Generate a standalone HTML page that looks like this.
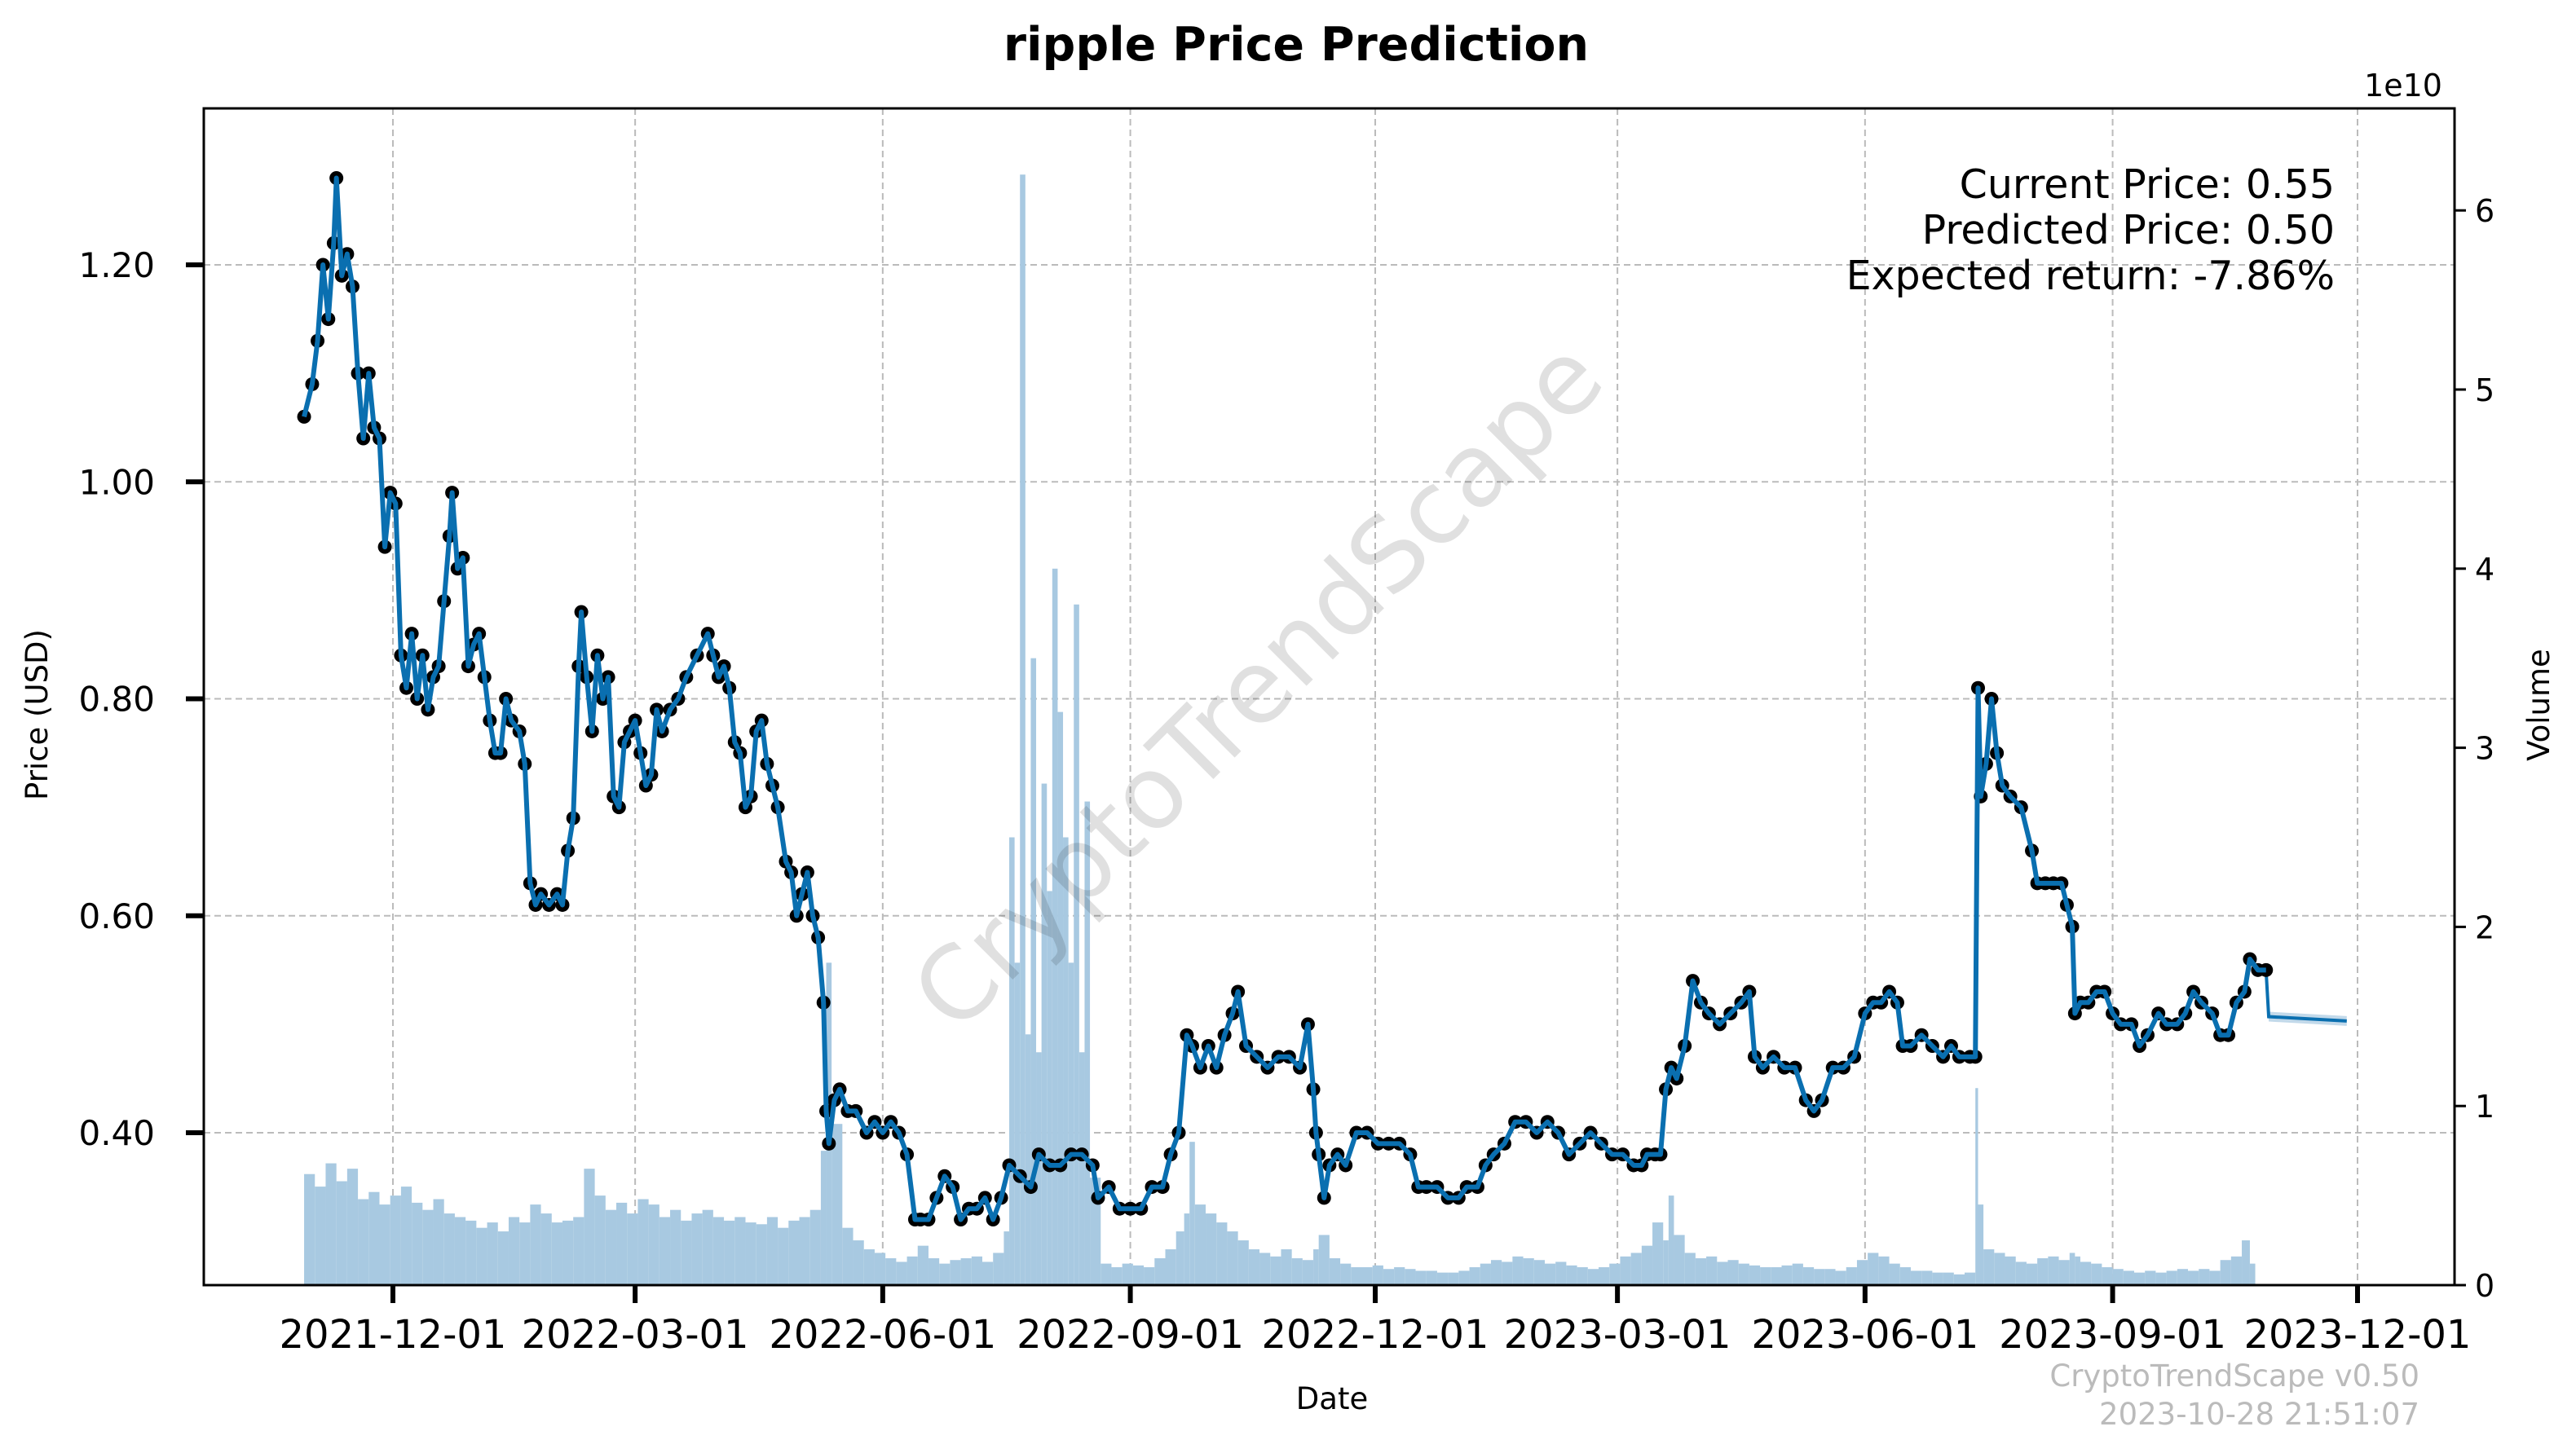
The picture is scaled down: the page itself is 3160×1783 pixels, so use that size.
<!DOCTYPE html>
<html><head><meta charset="utf-8"><style>
html,body{margin:0;padding:0;background:#fff}
svg{display:block;font-family:"DejaVu Sans","Liberation Sans",sans-serif}
</style></head><body>
<svg id="chart" width="3160" height="1783" viewBox="0 0 3160 1783">
<rect width="3160" height="1783" fill="#fff"/>
<g id="grid"></g>
<g id="vol"></g>
<text x="1549" y="847" transform="rotate(-45 1549 847)" text-anchor="middle" dominant-baseline="middle" font-size="124" fill="#000" fill-opacity="0.12">CryptoTrendScape</text>
<g id="pred"></g>
<g id="price"></g>
<g id="axes"></g>
<text x="1590" y="74" text-anchor="middle" font-size="57" font-weight="bold">ripple Price Prediction</text>
<text x="2864" y="243" text-anchor="end" font-size="49">Current Price: 0.55</text>
<text x="2864" y="299" text-anchor="end" font-size="49">Predicted Price: 0.50</text>
<text x="2864" y="355" text-anchor="end" font-size="49">Expected return: -7.86%</text>
<text x="1634" y="1729" text-anchor="middle" font-size="37">Date</text>
<text x="58" y="877" text-anchor="middle" font-size="37" transform="rotate(-90 58 877)">Price (USD)</text>
<text x="3127" y="865" text-anchor="middle" font-size="37" transform="rotate(-90 3127 865)">Volume</text>
<text x="2996" y="118" text-anchor="end" font-size="38">1e10</text>
<text x="2968" y="1701" text-anchor="end" font-size="37" fill="#bbb">CryptoTrendScape v0.50</text>
<text x="2968" y="1748" text-anchor="end" font-size="37" fill="#bbb">2023-10-28 21:51:07</text>
</svg>
<script>
const priceDates=["2021-10-29","2021-11-01","2021-11-03","2021-11-05","2021-11-07","2021-11-09","2021-11-10","2021-11-12","2021-11-14","2021-11-16","2021-11-18","2021-11-20","2021-11-22","2021-11-24","2021-11-26","2021-11-28","2021-11-30","2021-12-02","2021-12-04","2021-12-06","2021-12-08","2021-12-10","2021-12-12","2021-12-14","2021-12-16","2021-12-18","2021-12-20","2021-12-22","2021-12-23","2021-12-25","2021-12-27","2021-12-29","2021-12-31","2022-01-02","2022-01-04","2022-01-06","2022-01-08","2022-01-10","2022-01-12","2022-01-14","2022-01-17","2022-01-19","2022-01-21","2022-01-23","2022-01-25","2022-01-28","2022-01-31","2022-02-02","2022-02-04","2022-02-06","2022-02-08","2022-02-09","2022-02-11","2022-02-13","2022-02-15","2022-02-17","2022-02-19","2022-02-21","2022-02-23","2022-02-25","2022-02-27","2022-03-01","2022-03-03","2022-03-05","2022-03-07","2022-03-09","2022-03-11","2022-03-14","2022-03-17","2022-03-20","2022-03-24","2022-03-28","2022-03-30","2022-04-01","2022-04-03","2022-04-05","2022-04-07","2022-04-09","2022-04-11","2022-04-13","2022-04-15","2022-04-17","2022-04-19","2022-04-21","2022-04-23","2022-04-26","2022-04-28","2022-04-30","2022-05-02","2022-05-04","2022-05-06","2022-05-08","2022-05-10","2022-05-11","2022-05-12","2022-05-14","2022-05-16","2022-05-19","2022-05-22","2022-05-26","2022-05-29","2022-06-01","2022-06-04","2022-06-07","2022-06-10","2022-06-13","2022-06-15","2022-06-18","2022-06-21","2022-06-24","2022-06-27","2022-06-30","2022-07-03","2022-07-06","2022-07-09","2022-07-12","2022-07-15","2022-07-18","2022-07-22","2022-07-26","2022-07-29","2022-08-02","2022-08-06","2022-08-10","2022-08-14","2022-08-18","2022-08-20","2022-08-24","2022-08-28","2022-09-01","2022-09-05","2022-09-09","2022-09-13","2022-09-16","2022-09-19","2022-09-22","2022-09-24","2022-09-27","2022-09-30","2022-10-03","2022-10-06","2022-10-09","2022-10-11","2022-10-14","2022-10-18","2022-10-22","2022-10-26","2022-10-30","2022-11-03","2022-11-06","2022-11-08","2022-11-09","2022-11-10","2022-11-12","2022-11-14","2022-11-17","2022-11-20","2022-11-24","2022-11-28","2022-12-02","2022-12-06","2022-12-10","2022-12-14","2022-12-17","2022-12-20","2022-12-24","2022-12-28","2023-01-01","2023-01-04","2023-01-08","2023-01-11","2023-01-14","2023-01-18","2023-01-22","2023-01-26","2023-01-30","2023-02-03","2023-02-07","2023-02-11","2023-02-15","2023-02-19","2023-02-23","2023-02-27","2023-03-03","2023-03-07","2023-03-10","2023-03-12","2023-03-15","2023-03-17","2023-03-19","2023-03-21","2023-03-23","2023-03-26","2023-03-29","2023-04-01","2023-04-04","2023-04-08","2023-04-12","2023-04-16","2023-04-19","2023-04-21","2023-04-24","2023-04-28","2023-05-02","2023-05-06","2023-05-10","2023-05-13","2023-05-16","2023-05-20","2023-05-24","2023-05-28","2023-06-01","2023-06-04","2023-06-07","2023-06-10","2023-06-13","2023-06-15","2023-06-18","2023-06-22","2023-06-26","2023-06-30","2023-07-03","2023-07-06","2023-07-10","2023-07-12","2023-07-13","2023-07-14","2023-07-16","2023-07-18","2023-07-20","2023-07-22","2023-07-25","2023-07-29","2023-08-02","2023-08-04","2023-08-07","2023-08-10","2023-08-13","2023-08-15","2023-08-17","2023-08-18","2023-08-20","2023-08-23","2023-08-26","2023-08-29","2023-09-01","2023-09-04","2023-09-08","2023-09-11","2023-09-14","2023-09-18","2023-09-21","2023-09-25","2023-09-28","2023-10-01","2023-10-04","2023-10-08","2023-10-11","2023-10-14","2023-10-17","2023-10-20","2023-10-22","2023-10-25","2023-10-28"];
const priceValues=[1.06,1.09,1.13,1.20,1.15,1.22,1.28,1.19,1.21,1.18,1.10,1.04,1.10,1.05,1.04,0.94,0.99,0.98,0.84,0.81,0.86,0.80,0.84,0.79,0.82,0.83,0.89,0.95,0.99,0.92,0.93,0.83,0.85,0.86,0.82,0.78,0.75,0.75,0.80,0.78,0.77,0.74,0.63,0.61,0.62,0.61,0.62,0.61,0.66,0.69,0.83,0.88,0.82,0.77,0.84,0.80,0.82,0.71,0.70,0.76,0.77,0.78,0.75,0.72,0.73,0.79,0.77,0.79,0.80,0.82,0.84,0.86,0.84,0.82,0.83,0.81,0.76,0.75,0.70,0.71,0.77,0.78,0.74,0.72,0.70,0.65,0.64,0.60,0.62,0.64,0.60,0.58,0.52,0.42,0.39,0.43,0.44,0.42,0.42,0.40,0.41,0.40,0.41,0.40,0.38,0.32,0.32,0.32,0.34,0.36,0.35,0.32,0.33,0.33,0.34,0.32,0.34,0.37,0.36,0.35,0.38,0.37,0.37,0.38,0.38,0.37,0.34,0.35,0.33,0.33,0.33,0.35,0.35,0.38,0.40,0.49,0.48,0.46,0.48,0.46,0.49,0.51,0.53,0.48,0.47,0.46,0.47,0.47,0.46,0.50,0.44,0.40,0.38,0.34,0.37,0.38,0.37,0.40,0.40,0.39,0.39,0.39,0.38,0.35,0.35,0.35,0.34,0.34,0.35,0.35,0.37,0.38,0.39,0.41,0.41,0.40,0.41,0.40,0.38,0.39,0.40,0.39,0.38,0.38,0.37,0.37,0.38,0.38,0.38,0.44,0.46,0.45,0.48,0.54,0.52,0.51,0.50,0.51,0.52,0.53,0.47,0.46,0.47,0.46,0.46,0.43,0.42,0.43,0.46,0.46,0.47,0.51,0.52,0.52,0.53,0.52,0.48,0.48,0.49,0.48,0.47,0.48,0.47,0.47,0.47,0.81,0.71,0.74,0.80,0.75,0.72,0.71,0.70,0.66,0.63,0.63,0.63,0.63,0.61,0.59,0.51,0.52,0.52,0.53,0.53,0.51,0.50,0.50,0.48,0.49,0.51,0.50,0.50,0.51,0.53,0.52,0.51,0.49,0.49,0.52,0.53,0.56,0.55,0.55];
const predDates=["2023-10-28","2023-10-29","2023-11-27"];
const predValues=[0.55,0.507,0.503];
const volDates=["2021-10-29","2021-11-02","2021-11-06","2021-11-10","2021-11-14","2021-11-18","2021-11-22","2021-11-26","2021-11-30","2021-12-04","2021-12-08","2021-12-12","2021-12-16","2021-12-20","2021-12-24","2021-12-28","2022-01-01","2022-01-05","2022-01-09","2022-01-13","2022-01-17","2022-01-21","2022-01-25","2022-01-29","2022-02-02","2022-02-06","2022-02-10","2022-02-14","2022-02-18","2022-02-22","2022-02-26","2022-03-02","2022-03-06","2022-03-10","2022-03-14","2022-03-18","2022-03-22","2022-03-26","2022-03-30","2022-04-03","2022-04-07","2022-04-11","2022-04-15","2022-04-19","2022-04-23","2022-04-27","2022-05-01","2022-05-05","2022-05-09","2022-05-11","2022-05-13","2022-05-17","2022-05-21","2022-05-25","2022-05-29","2022-06-02","2022-06-06","2022-06-10","2022-06-14","2022-06-18","2022-06-22","2022-06-26","2022-06-30","2022-07-04","2022-07-08","2022-07-12","2022-07-16","2022-07-18","2022-07-20","2022-07-22","2022-07-24","2022-07-26","2022-07-28","2022-07-30","2022-08-01","2022-08-03","2022-08-05","2022-08-07","2022-08-09","2022-08-11","2022-08-13","2022-08-15","2022-08-17","2022-08-21","2022-08-25","2022-08-29","2022-09-02","2022-09-06","2022-09-10","2022-09-14","2022-09-18","2022-09-21","2022-09-23","2022-09-25","2022-09-29","2022-10-03","2022-10-07","2022-10-11","2022-10-15","2022-10-19","2022-10-23","2022-10-27","2022-10-31","2022-11-04","2022-11-08","2022-11-10","2022-11-14","2022-11-18","2022-11-22","2022-11-26","2022-11-30","2022-12-04","2022-12-08","2022-12-12","2022-12-16","2022-12-20","2022-12-24","2022-12-28","2023-01-01","2023-01-05","2023-01-09","2023-01-13","2023-01-17","2023-01-21","2023-01-25","2023-01-29","2023-02-02","2023-02-06","2023-02-10","2023-02-14","2023-02-18","2023-02-22","2023-02-26","2023-03-02","2023-03-06","2023-03-10","2023-03-14","2023-03-18","2023-03-20","2023-03-22","2023-03-26","2023-03-30","2023-04-03","2023-04-07","2023-04-11","2023-04-15","2023-04-19","2023-04-23","2023-04-27","2023-05-01","2023-05-05","2023-05-09","2023-05-13","2023-05-17","2023-05-21","2023-05-25","2023-05-29","2023-06-02","2023-06-06","2023-06-10","2023-06-14","2023-06-18","2023-06-22","2023-06-26","2023-06-30","2023-07-04","2023-07-08","2023-07-12","2023-07-13","2023-07-15","2023-07-19","2023-07-23","2023-07-27","2023-07-31","2023-08-04","2023-08-08","2023-08-12","2023-08-16","2023-08-18","2023-08-20","2023-08-24","2023-08-28","2023-09-01","2023-09-05","2023-09-09","2023-09-13","2023-09-17","2023-09-21","2023-09-25","2023-09-29","2023-10-03","2023-10-07","2023-10-11","2023-10-15","2023-10-19","2023-10-22","2023-10-24","2023-10-28"];
const volValues=[6.2,5.5,6.8,5.8,6.5,4.8,5.2,4.5,5.0,5.5,4.6,4.2,4.8,4.0,3.8,3.6,3.2,3.5,3.0,3.8,3.5,4.5,4.0,3.5,3.6,3.8,6.5,5.0,4.2,4.6,4.0,4.8,4.5,3.8,4.2,3.6,4.0,4.2,3.8,3.6,3.8,3.5,3.4,3.8,3.2,3.6,3.8,4.2,7.5,18,9.0,3.2,2.5,2.0,1.8,1.5,1.3,1.6,2.2,1.5,1.2,1.4,1.5,1.6,1.3,1.8,3.0,25,18,62,14,35,13,28,22,40,32,25,18,38,13,27,6.0,1.2,1.0,1.2,1.1,1.0,1.5,2.0,3.0,4.0,8.0,4.5,4.0,3.5,3.0,2.5,2.0,1.8,1.6,2.0,1.5,1.4,2.0,2.8,1.5,1.2,1.0,1.0,1.1,0.9,1.0,0.9,0.8,0.8,0.7,0.7,0.8,1.0,1.2,1.4,1.3,1.6,1.5,1.4,1.2,1.3,1.1,1.0,0.9,1.0,1.2,1.6,1.8,2.2,3.5,2.5,5.0,2.8,1.8,1.5,1.6,1.3,1.4,1.2,1.1,1.0,1.0,1.1,1.2,1.0,0.9,0.9,0.8,1.0,1.4,1.8,1.6,1.2,1.0,0.8,0.8,0.7,0.7,0.6,0.7,11,4.5,2.0,1.8,1.6,1.3,1.2,1.5,1.6,1.4,1.8,1.6,1.3,1.2,1.0,0.9,0.8,0.7,0.8,0.7,0.8,0.9,0.8,0.9,0.8,1.4,1.6,2.5,1.2];

const SVGNS="http://www.w3.org/2000/svg";
const X0=250,X1=3011,Y0=133,Y1=1577;
const T0=Date.UTC(2021,11,1),XT0=482,PXD=(2892-482)/730;
function xOf(d){const p=d.split('-').map(Number);return XT0+(Date.UTC(p[0],p[1]-1,p[2])-T0)/86400000*PXD;}
function yOf(v){return 325+(1.20-v)/0.2*266.25;}
function vOf(v){return Y1-v/10*219.8;}
function mk(tag,attrs,parent){const e=document.createElementNS(SVGNS,tag);for(const k in attrs)e.setAttribute(k,attrs[k]);parent.appendChild(e);return e;}

const xTicks=["2021-12-01","2022-03-01","2022-06-01","2022-09-01","2022-12-01","2023-03-01","2023-06-01","2023-09-01","2023-12-01"];
const yTicks=[0.40,0.60,0.80,1.00,1.20];
const vTicks=[0,1,2,3,4,5,6];

const grid=document.getElementById('grid');
xTicks.forEach(t=>{const g=mk('line',{x1:xOf(t),x2:xOf(t),y1:Y0,y2:Y1,stroke:'#bbb','stroke-width':2,'stroke-dasharray':'8,5'},grid);

});
yTicks.forEach(t=>{const g=mk('line',{x1:X0,x2:X1,y1:yOf(t),y2:yOf(t),stroke:'#bbb','stroke-width':2,'stroke-dasharray':'8,5'},grid);

});

const vol=document.getElementById('vol');
volDates.forEach((d,i)=>{const x=xOf(d);const nx=i<volDates.length-1?xOf(volDates[i+1]):x+6;
const r=mk('rect',{x:x,y:vOf(volValues[i]),width:Math.max(nx-x,2),height:Y1-vOf(volValues[i]),fill:'#a8c9e1'},vol);

});

const pred=document.getElementById('pred');
const band=mk('polygon',{points:predDates.map((d,i)=>xOf(d)+','+(yOf(predValues[i])-6)).join(' ')+' '+predDates.slice().reverse().map((d,i)=>xOf(d)+','+(yOf(predValues[predValues.length-1-i])+6)).join(' '),fill:'#a8c9e1','fill-opacity':0.7},pred);


const pl=mk('polyline',{points:predDates.map((d,i)=>xOf(d)+','+yOf(predValues[i])).join(' '),fill:'none',stroke:'#0a6fb0','stroke-width':4},pred);



const price=document.getElementById('price');
priceDates.forEach((d,i)=>{const c=mk('circle',{cx:xOf(d),cy:yOf(priceValues[i]),r:8.5,fill:'#000'},price);

});
const line=mk('polyline',{points:priceDates.map((d,i)=>xOf(d)+','+yOf(priceValues[i])).join(' '),fill:'none',stroke:'#0a6fb0','stroke-width':6,'stroke-linejoin':'round'},price);



const axes=document.getElementById('axes');
const fr=mk('rect',{x:X0,y:Y0,width:X1-X0,height:Y1-Y0,fill:'none',stroke:'#000','stroke-width':3},axes);


xTicks.forEach(t=>{const x=xOf(t);
const tk=mk('line',{x1:x,x2:x,y1:Y1,y2:Y1+22,stroke:'#000','stroke-width':6},axes);


const l=mk('text',{x:x,y:1654,'text-anchor':'middle','font-size':48},axes);l.textContent=t;

});
yTicks.forEach(t=>{const y=yOf(t);
const tk=mk('line',{x1:X0-22,x2:X0,y1:y,y2:y,stroke:'#000','stroke-width':6},axes);


const l=mk('text',{x:190,y:y+15,'text-anchor':'end','font-size':42},axes);l.textContent=t.toFixed(2);

});
vTicks.forEach(t=>{const y=vOf(t*10);
const tk=mk('line',{x1:X1,x2:X1+14,y1:y,y2:y,stroke:'#000','stroke-width':3},axes);


const l=mk('text',{x:3036,y:y+14,'font-size':38},axes);l.textContent=String(t);

});
</script>
</body></html>
